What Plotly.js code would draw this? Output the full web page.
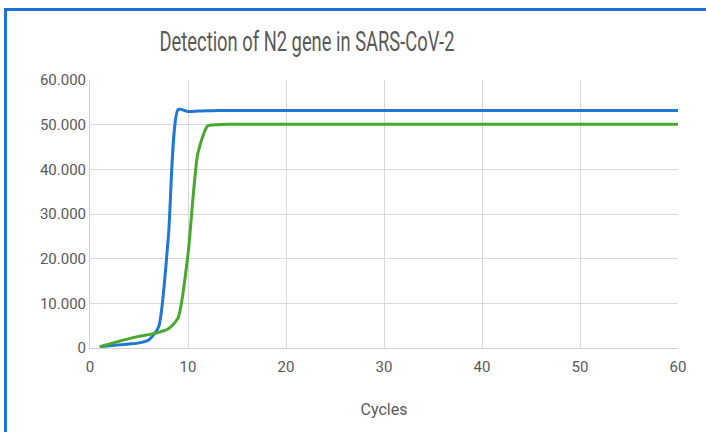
<!DOCTYPE html>
<html><head><meta charset="utf-8">
<script src="https://cdn.plot.ly/plotly-3.0.1.min.js"></script>
<style>
html,body{margin:0;padding:0;background:#fff;}
#wrap{position:relative;width:706px;height:432px;overflow:hidden;}
#chart{position:absolute;left:0;top:0;width:706px;height:432px;}
#frame{position:absolute;left:4px;top:8px;width:720px;height:440px;border-left:3px solid #1c74d2;border-top:3px solid #1c74d2;pointer-events:none;}
</style></head>
<body><div id="wrap"><div id="chart"></div><div id="frame"></div></div>
<script>
const cycles = Array.from({length:60},(_,i)=>i+1);
const blueValues = [300,500,700,900,1150,1800,4700,25000,53400,52950,53050,53100,53150,53150,53150,53150,53150,53150,53150,53150,
 53150,53150,53150,53150,53150,53150,53150,53150,53150,53150,53150,53150,53150,53150,53150,53150,53150,53150,53150,53150,
 53150,53150,53150,53150,53150,53150,53150,53150,53150,53150,53150,53150,53150,53150,53150,53150,53150,53150,53150,53150];
const greenValues = [300,900,1500,2100,2600,3000,3500,4300,6800,21000,43500,49700,50000,50100,50100,50100,50100,50100,50100,50100,
 50100,50100,50100,50100,50100,50100,50100,50100,50100,50100,50100,50100,50100,50100,50100,50100,50100,50100,50100,50100,
 50100,50100,50100,50100,50100,50100,50100,50100,50100,50100,50100,50100,50100,50100,50100,50100,50100,50100,50100,50100];
const xTicks = [0,10,20,30,40,50,60];
const yTicks = [0,10000,20000,30000,40000,50000,60000];

const FONT = 'Roboto, "DejaVu Sans", sans-serif';
const traces = [
 {x:cycles, y:blueValues, type:'scatter', mode:'lines', line:{color:'#1f78d1', width:3, shape:'spline', smoothing:0.6}, hoverinfo:'skip'},
 {x:cycles, y:greenValues, type:'scatter', mode:'lines', line:{color:'#4aa82e', width:3, shape:'spline', smoothing:0.6}, hoverinfo:'skip'}
];
const layout = {
 width:706, height:432,
 margin:{l:90, r:28, t:80, b:84},
 paper_bgcolor:'#fff', plot_bgcolor:'#fff',
 showlegend:false,
 separators:',.',
 font:{family:FONT, color:'#595959', size:15},
 title:{text:'Detection of N2 gene in SARS-CoV-2', font:{family:FONT, size:27, color:'#595959'}, x:307/706, xanchor:'center', y:1-42/432, yanchor:'middle'},
 xaxis:{range:[0,60], tickvals:xTicks, ticktext:xTicks.map(String), showgrid:true, gridcolor:'#d9d9d9', gridwidth:1,
   showline:true, linecolor:'#d0d0d0', linewidth:1, zeroline:false, ticks:'', ticklen:0, ticklabelstandoff:5,
   tickfont:{family:FONT, size:15, color:'#595959'},
   title:{text:'Cycles', font:{family:FONT, size:16, color:'#595959'}, standoff:28}},
 yaxis:{range:[0,60000], tickvals:yTicks, tickformat:',.0f', showgrid:true, gridcolor:'#d9d9d9', gridwidth:1,
   showline:true, linecolor:'#d0d0d0', linewidth:1, zeroline:false, ticks:'', 
   tickfont:{family:FONT, size:15, color:'#595959'}}
};
Plotly.newPlot('chart', traces, layout, {staticPlot:true, displayModeBar:false}).then(()=>{
  // emulate the condensed title face: narrow the title text horizontally around its centre
  const t = document.querySelector('#chart .gtitle');
  if (t) {
    const w = t.getBBox().width;
    const s = Math.min(1, 295 / w);
    const cx = parseFloat(t.getAttribute('x'));
    t.setAttribute('transform', `translate(${cx*(1-s)},0) scale(${s},1)`);
  }
});
</script></body></html>
